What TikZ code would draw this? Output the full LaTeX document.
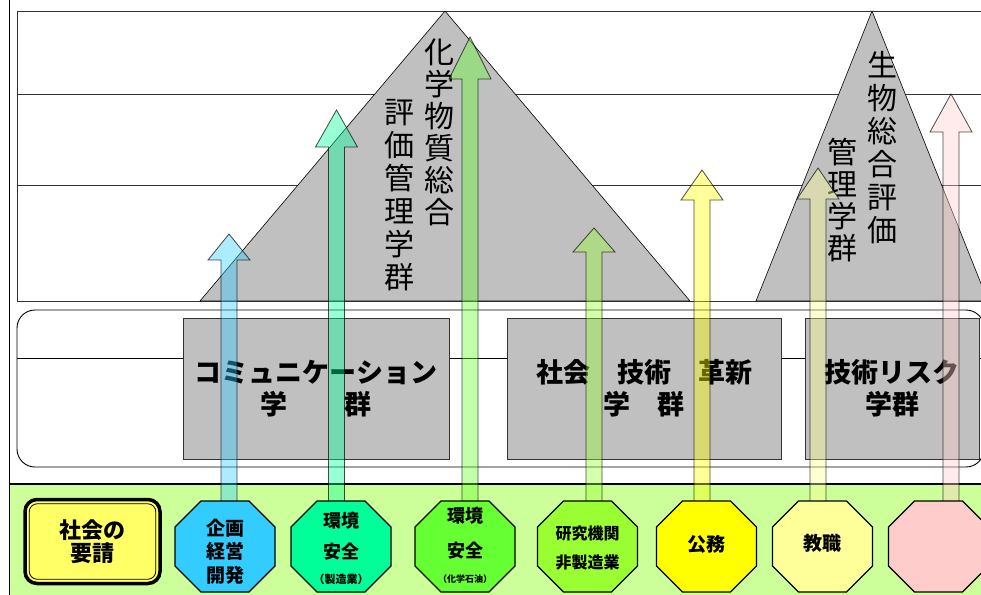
\documentclass[tikz,border=0pt]{standalone}
\usepackage{fontspec}
\setmainfont{Noto Sans CJK JP}
\definecolor{panelgray}{HTML}{C0C0C0}
\definecolor{bandgreen}{HTML}{CCFF99}
\definecolor{yoseic}{HTML}{FFFF66}
\definecolor{kikakuc}{HTML}{33CCFF}
\definecolor{kankyoac}{HTML}{00FF99}
\definecolor{kankyobc}{HTML}{66FF33}
\definecolor{kenkyuc}{HTML}{99FF33}
\definecolor{komuc}{HTML}{FFFF00}
\definecolor{kyoshokuc}{HTML}{FFFF99}
\definecolor{pinkc}{HTML}{FFCCCC}
\begin{document}
\begin{tikzpicture}[x=1pt,y=-1pt,
        grid/.style={draw=black!80,line width=0.9pt},
        mount/.style={draw=black,fill=panelgray,line width=0.6pt},
        field/.style={draw=black!80,fill=panelgray,line width=0.6pt,
            align=center,font=\fontsize{27}{32}\selectfont\bfseries},
        coltext/.style={align=center,inner sep=0pt},
        uparrow/.style={draw=black,draw opacity=0.7,fill opacity=0.4,
            line width=0.8pt},
        octline/.style={draw=black,line width=1.2pt},
        octtext/.style={align=center,inner sep=0pt}]
    \useasboundingbox (0,0) rectangle (981,594);
    \clip (0,0) rectangle (981,594);

	% upper frame
    \draw[line width=1pt] (9,0) -- (9,594);
    \draw[grid] (17,11) rectangle (995,301);
    \draw[grid] (17,94) -- (995,94);
    \draw[grid] (17,185) -- (995,185);

	% mountains
    \draw[mount] (200,301) -- (445,11) -- (690,301) -- cycle;
    \draw[mount] (756,301) -- (872,11) -- (988,301) -- cycle;
    \node[coltext,font=\fontsize{30}{32}\selectfont] (kagaku) at (439,132)
        {化\\学\\物\\質\\総\\合};
    \node[coltext,font=\fontsize{30}{33}\selectfont] (hyoka) at (399,195.5)
        {評\\価\\管\\理\\学\\群};
    \node[coltext,font=\fontsize{30}{33}\selectfont] (seibutsu) at (882,147.5)
        {生\\物\\総\\合\\評\\価};
    \node[coltext,font=\fontsize{30}{32}\selectfont] (kanri) at (842,200.5)
        {管\\理\\学\\群};

	% middle band
    \draw[line width=0.9pt, rounded corners=18] (17,310) rectangle (984,467);
    \draw[line width=0.9pt] (17,358) -- (984,358);
    \node[field,minimum width=266,minimum height=141] (komi) at (316,388.5)
        {コミュニケーション\\学\hspace{57pt}群};
    \node[field,minimum width=274,minimum height=141] (gijutsu) at (644,388.5)
        {社会　技術　革新\\学　群};
    \node[field,minimum width=174,minimum height=141] (risk) at (892,388.5)
        {技術リスク\\学群};

	% lower band
    \draw[draw=black,fill=bandgreen] (9,484) rectangle (995,600);
    \draw[line width=1.6pt] (9,484) -- (995,484);

	% arrows
    \foreach \x/\tip/\hb/\col in {229/234/260/kikakuc, 336.5/110/147/kankyoac,
        470/37/79/kankyobc, 594/228/252/kenkyuc, 702/170/200/komuc,
        818/168/199/kyoshokuc, 951/94/132/pinkc}
        \draw[uparrow, fill=\col] (\x-8,505) -- (\x-8,\hb) -- (\x-21,\hb)
            -- (\x,\tip) -- (\x+21,\hb) -- (\x+8,\hb) -- (\x+8,505) -- cycle;

	% octagons
    \foreach \cx/\col in {225/kikakuc, 341/kankyoac, 465/kankyobc,
        587.5/kenkyuc, 706.5/komuc, 822.5/kyoshokuc, 938.5/pinkc}
        \draw[octline, fill=\col] (\cx-24,501) -- (\cx+24,501) -- (\cx+50,527)
            -- (\cx+50,566) -- (\cx+24,592) -- (\cx-24,592) -- (\cx-50,566)
            -- (\cx-50,527) -- cycle;
    \node[octtext,font=\fontsize{19}{23.5}\selectfont\bfseries] (kikaku)
        at (225,551.5) {企画\\経営\\開発};
    \node[octtext,font=\fontsize{18}{31}\selectfont\bfseries] (kankyoA)
        at (341,536.5) {環境\\安全};
    \node[octtext,font=\fontsize{11}{13}\selectfont\bfseries] (seizo)
        at (341,579) {（製造業）};
    \node[octtext,font=\fontsize{18}{35}\selectfont\bfseries] (kankyoB)
        at (465,533.5) {環境\\安全};
    \node[octtext,font=\fontsize{9}{11}\selectfont\bfseries] (sekiyu)
        at (465,579) {（化学石油）};
    \node[octtext,font=\fontsize{16}{29}\selectfont\bfseries] (kenkyu)
        at (587.5,548.5) {研究機関\\非製造業};
    \node[octtext,font=\fontsize{19}{22}\selectfont\bfseries] (komu)
        at (706.5,544) {公務};
    \node[octtext,font=\fontsize{19}{22}\selectfont\bfseries] (kyoshoku)
        at (822.5,543) {教職};

	% demand box
    \node[draw=black,line width=3.5pt,rounded corners=12,fill=yoseic,
        minimum width=135,minimum height=84,align=center,
        font=\fontsize{22}{23}\selectfont\bfseries] (yosei) at (92.5,541.5)
        {社会の\\要請};
    \draw[line width=0.8pt,rounded corners=8]
        ([xshift=6pt,yshift=-6pt]yosei.north west) rectangle
        ([xshift=-6pt,yshift=6pt]yosei.south east);
\end{tikzpicture}
\end{document}
